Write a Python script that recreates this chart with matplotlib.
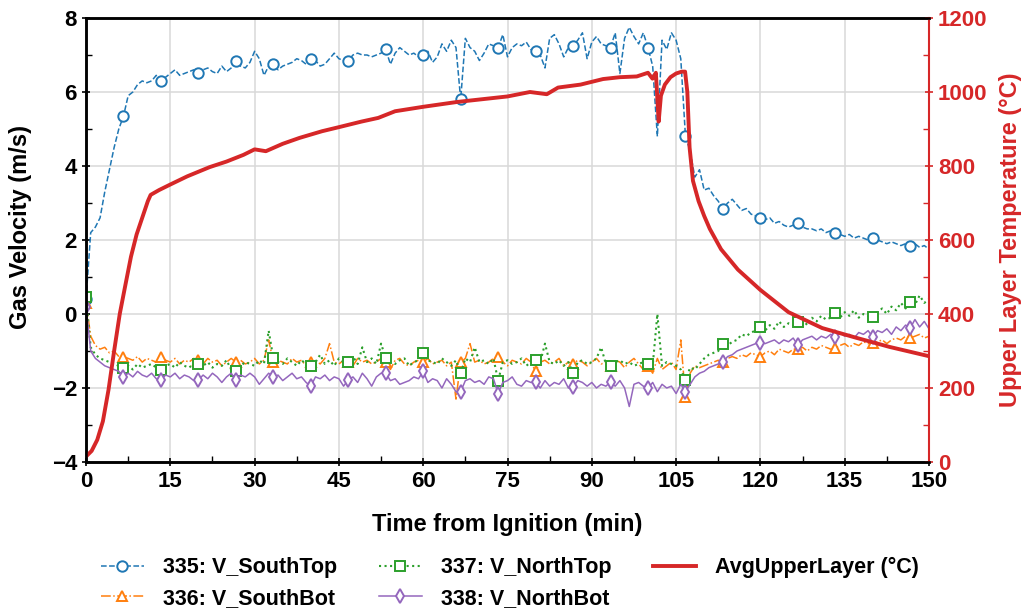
import numpy as np
import matplotlib
matplotlib.use('Agg')
import matplotlib.pyplot as plt
from matplotlib.ticker import MultipleLocator

plt.rcParams['font.family'] = ['Liberation Sans', 'DejaVu Sans']
plt.rcParams['font.weight'] = 'bold'

# time axis of the velocity probes (one reading every 50 s)
minutes = np.linspace(0, 150, 181)

v_south_top = [
    0.4, 2.2, 2.35, 2.6, 3.3, 3.9, 4.5, 5.0, 5.35, 5.9, 6.0, 6.2,
    6.3, 6.25, 6.3, 6.45, 6.3, 6.4, 6.5, 6.6, 6.45, 6.5, 6.55, 6.6,
    6.5, 6.6, 6.65, 6.55, 6.5, 6.7, 6.55, 6.65, 6.85, 6.7, 6.65, 6.8,
    7.1, 6.9, 6.45, 6.7, 6.75, 6.6, 6.7, 6.75, 6.8, 6.9, 6.85, 6.75,
    6.9, 6.85, 6.7, 6.75, 6.9, 7.05, 6.9, 6.85, 6.85, 7.0, 7.05, 7.0,
    7.0, 6.95, 7.0, 7.05, 7.15, 6.75, 7.05, 7.2, 7.1, 7.0, 7.05, 6.95,
    7.0, 7.1, 6.8, 6.95, 7.3, 7.1, 7.4, 7.2, 5.8, 7.45, 7.2, 7.1,
    6.85, 7.05, 7.3, 7.25, 7.2, 7.55, 6.95, 7.2, 7.3, 7.25, 7.35, 7.15,
    7.1, 7.0, 6.65, 7.45, 7.55, 7.3, 6.95, 7.2, 7.25, 7.4, 7.6, 6.9,
    7.35, 7.5, 7.3, 7.25, 7.2, 7.6, 6.5, 7.45, 7.75, 7.5, 7.3, 7.6,
    7.2, 6.7, 4.8, 7.4, 7.15, 7.6, 7.4, 6.9, 4.8, 4.4, 3.7, 3.9,
    3.35, 3.4, 3.2, 3.05, 2.85, 3.0, 3.1, 2.95, 2.8, 2.85, 2.7, 2.65,
    2.6, 2.55, 2.6, 2.45, 2.5, 2.4, 2.35, 2.4, 2.45, 2.35, 2.3, 2.3,
    2.25, 2.3, 2.2, 2.25, 2.2, 2.15, 2.1, 2.15, 2.05, 2.1, 2.05, 2.0,
    2.05, 2.0, 1.95, 1.9, 1.95, 1.9, 1.85, 1.9, 1.85, 1.9, 1.8, 1.85, 1.75]

v_south_bot = [
    0.3, -0.6, -0.85, -0.95, -0.9, -1.05, -1.0, -1.15, -1.15, -1.2, -1.25, -1.15,
    -1.3, -1.2, -1.25, -1.3, -1.15, -1.25, -1.3, -1.2, -1.35, -1.25, -1.3, -1.2,
    -1.25, -1.35, -1.2, -1.3, -1.25, -1.4, -1.3, -1.2, -1.3, -1.25, -1.35, -1.3,
    -1.2, -1.35, -1.25, -0.7, -1.3, -1.25, -1.3, -1.35, -1.2, -1.3, -1.25, -1.4,
    -1.3, -1.25, -1.35, -1.2, -0.8, -1.3, -1.35, -1.25, -1.3, -1.4, -1.2, -1.3,
    -1.25, -1.35, -1.3, -1.2, -1.3, -1.5, -1.25, -1.2, -1.35, -1.4, -1.3, -1.25,
    -1.3, -1.2, -1.35, -1.3, -1.25, -1.4, -1.3, -2.3, -1.3, -1.2, -0.8, -1.3,
    -1.25, -1.35, -1.3, -1.2, -1.15, -1.3, -1.4, -1.25, -1.3, -1.35, -1.2, -1.3,
    -1.55, -1.3, -1.25, -1.35, -1.3, -1.2, -1.4, -1.3, -1.35, -1.25, -1.3, -1.4,
    -1.3, -1.2, -1.35, -1.3, -1.4, -1.25, -1.3, -1.45, -1.3, -1.2, -1.35, -1.5,
    -1.4, -1.6, -1.2, -1.5, -1.4, -1.3, -1.5, -0.7, -2.25, -1.6, -1.4, -1.45,
    -1.4, -1.35, -1.3, -1.25, -1.3, -1.2, -1.15, -1.2, -1.1, -1.15, -1.05, -1.1,
    -1.15, -1.05, -1.0, -1.1, -0.95, -1.0, -1.05, -0.95, -0.95, -0.9, -1.0, -0.9,
    -0.95, -0.85, -0.9, -0.95, -0.92, -0.85, -0.8, -0.9, -0.8, -0.85, -0.75, -0.8,
    -0.78, -0.75, -0.7, -0.8, -0.7, -0.65, -0.7, -0.6, -0.65, -0.6, -0.55, -0.65, -0.6]

v_north_top = [
    0.45, -0.9, -1.1, -1.2, -1.25, -1.3, -1.35, -1.4, -1.45, -1.4, -1.5, -1.35,
    -1.45, -1.4, -1.35, -1.45, -1.5, -1.4, -1.35, -1.45, -1.3, -1.4, -1.45, -1.35,
    -1.35, -1.4, -1.3, -1.45, -1.35, -1.4, -1.25, -1.5, -1.55, -1.4, -1.3, -1.35,
    -1.4, -1.25, -1.35, -0.45, -1.2, -1.3, -1.35, -1.2, -1.3, -1.4, -1.25, -1.35,
    -1.4, -1.3, -1.1, -1.35, -1.25, -1.4, -1.2, -1.3, -1.3, -1.15, -1.35, -0.9,
    -1.3, -1.2, -1.35, -0.8, -1.2, -1.3, -1.35, -1.25, -1.2, -1.4, -1.3, -1.25,
    -1.05, -1.25, -1.3, -1.35, -1.2, -1.3, -1.4, -1.25, -1.6, -1.2, -1.3, -0.9,
    -1.3, -1.25, -1.35, -1.2, -1.8, -1.3, -1.25, -1.35, -1.3, -1.2, -1.4, -1.3,
    -1.25, -1.3, -0.8, -1.3, -1.35, -1.25, -1.4, -1.3, -1.6, -1.3, -1.25, -1.35,
    -1.3, -1.2, -0.9, -1.35, -1.4, -1.3, -1.25, -1.35, -1.3, -1.4, -1.35, -1.3,
    -1.35, -1.4, 0.0, -1.4, -1.3, -1.35, -1.4, -1.5, -1.78, -1.45, -1.5, -1.35,
    -1.2, -1.1, -1.05, -1.0, -0.82, -0.85, -0.75, -0.7, -0.55, -0.6, -0.5, -0.45,
    -0.35, -0.45, -0.3, -0.4, -0.2, -0.35, -0.25, -0.3, -0.22, -0.15, -0.3, -0.1,
    -0.2, -0.05, -0.15, -0.1, 0.03, -0.1, 0.05, -0.05, 0.1, -0.1, 0.0, -0.05,
    -0.08, 0.05, 0.15, 0.0, 0.2, 0.1, 0.3, 0.15, 0.32, 0.25, 0.5, 0.3, 0.4]

v_north_bot = [
    0.2, -1.0, -1.2, -1.3, -1.4, -1.45, -1.5, -1.55, -1.7, -1.6, -1.7, -1.55,
    -1.65, -1.7, -1.6, -1.75, -1.78, -1.65, -1.7, -1.6, -1.75, -1.65, -1.7, -1.8,
    -1.78, -1.65, -1.75, -1.6, -1.7, -1.85, -1.7, -1.6, -1.78, -1.65, -1.7, -1.6,
    -1.7, -1.9, -1.75, -1.6, -1.7, -1.65, -1.8, -1.7, -1.6, -1.75, -1.7, -1.85,
    -1.95, -1.7, -1.75, -1.65, -1.8, -1.7, -1.75, -1.95, -1.78, -1.7, -1.85, -1.6,
    -1.75, -1.95, -1.7, -1.6, -1.6, -1.8, -1.75, -1.9, -1.85, -1.8, -1.7, -1.75,
    -1.55, -1.85, -1.75, -1.8, -2.0, -1.75, -1.9, -2.1, -2.1, -1.8, -1.75, -1.85,
    -1.8, -1.9, -1.7, -1.75, -2.15, -1.85, -1.8, -1.7, -1.9, -1.95, -1.8, -1.85,
    -1.85, -2.0, -1.8, -1.95, -1.85, -1.9, -1.75, -2.0, -1.97, -1.8, -1.85, -1.95,
    -1.85, -2.0, -1.9, -1.95, -1.84, -1.95, -1.8, -2.0, -2.5, -1.9, -1.85, -1.95,
    -2.0, -1.85, -2.1, -1.9, -2.0, -1.95, -2.15, -1.9, -2.1, -1.9, -1.7, -1.6,
    -1.55, -1.45, -1.4, -1.35, -1.3, -1.15, -1.1, -1.0, -0.95, -0.9, -0.85, -0.8,
    -0.78, -0.8, -0.75, -0.7, -0.8, -0.7, -0.75, -0.65, -0.84, -0.7, -0.65, -0.6,
    -0.7, -0.6, -0.65, -0.55, -0.62, -0.5, -0.6, -0.55, -0.65, -0.5, -0.55, -0.45,
    -0.62, -0.45, -0.5, -0.4, -0.55, -0.35, -0.45, -0.3, -0.38, -0.15, -0.35, -0.2, -0.4]

# average upper layer temperature
temp_min = [0, 1, 2, 3, 4, 5, 6, 7, 8, 9, 10, 11, 11.5, 13, 15, 18, 22, 25, 28, 30,
            32, 35, 38, 42, 45, 49, 52, 55, 60, 66, 72, 75, 79, 82, 84, 88, 92, 95,
            98, 100, 100.8, 101.4, 101.9, 102.3, 103, 104, 105, 106, 106.6, 107,
            107.4, 108, 109, 110, 111, 113, 116, 120, 125, 131, 137, 143, 150]
temp_c = [15, 30, 60, 110, 195, 300, 400, 478, 555, 615, 660, 705, 722, 735, 750,
          772, 797, 812, 830, 845, 840, 860, 876, 894, 905, 920, 930, 948, 960, 973,
          983, 988, 1000, 994, 1012, 1020, 1035, 1040, 1042, 1052, 1036, 1052, 920,
          990, 1020, 1040, 1050, 1055, 1055, 1000, 850, 760, 705, 665, 630, 575, 520,
          465, 405, 362, 336, 311, 286]

red = '#d62728'

fig = plt.figure(figsize=(10.29, 6.10), dpi=100)
ax = fig.add_axes([0.0836, 0.2426, 0.8192, 0.7279])
ax2 = ax.twinx()

mk = dict(markevery=8, markersize=7.5, markerfacecolor='white', markeredgewidth=1.4)
l1, = ax.plot(minutes, v_south_top, color='#1f77b4', ls='--', lw=1.1, marker='o',
              label='335: V_SouthTop', **mk)
l2, = ax.plot(minutes, v_south_bot, color='#ff7f0e', ls='-.', lw=1.1, marker='^',
              label='336: V_SouthBot', **mk)
l3, = ax.plot(minutes, v_north_top, color='#2ca02c', ls=':', lw=1.5, marker='s',
              label='337: V_NorthTop', **mk)
l4, = ax.plot(minutes, v_north_bot, color='#9467bd', ls='-', lw=1.1, marker='d',
              label='338: V_NorthBot', **mk)
l5, = ax2.plot(temp_min, temp_c, color=red, lw=2.8, solid_joinstyle='round',
               label='AvgUpperLayer (°C)')

ax.set_xlim(0, 150)
ax.set_ylim(-4, 8)
ax2.set_ylim(0, 1200)
ax.xaxis.set_major_locator(MultipleLocator(15))
ax.xaxis.set_minor_locator(MultipleLocator(7.5))
ax.yaxis.set_major_locator(MultipleLocator(2))
ax.yaxis.set_minor_locator(MultipleLocator(1))
ax2.yaxis.set_major_locator(MultipleLocator(200))
ax2.yaxis.set_minor_locator(MultipleLocator(100))

ax.grid(True, which='major', color='#d9d9d9', lw=1.1)
ax.set_axisbelow(True)

for a in (ax, ax2):
    a.tick_params(which='major', direction='inout', length=6, width=1.2, labelsize=16)
    a.tick_params(which='minor', direction='in', length=4, width=1.0)
ax2.tick_params(axis='y', which='both', colors=red, labelcolor=red)

for s in ('left', 'bottom', 'top'):
    ax.spines[s].set_linewidth(1.8)
    ax2.spines[s].set_linewidth(1.8)
ax2.spines['right'].set_color(red)
ax2.spines['right'].set_linewidth(1.5)
ax.spines['right'].set_visible(False)

ax.set_xlabel('Time from Ignition (min)', fontsize=17, fontweight='bold', labelpad=15)
ax.set_ylabel('Gas Velocity (m/s)', fontsize=17, fontweight='bold')
ax.yaxis.set_label_coords(-0.064, 0.53)
ax2.set_ylabel('Upper Layer Temperature (°C)', fontsize=17, fontweight='bold',
               color=red, labelpad=8)

fig.legend(handles=[l1, l2, l3, l4, l5], loc='upper center', ncol=3,
           bbox_to_anchor=(0.4956, 0.118), frameon=False,
           handlelength=2.0, handletextpad=0.88, columnspacing=1.95, labelspacing=0.44,
           prop={'weight': 'bold', 'size': 15.5})

fig.savefig('out.png', dpi=100)
